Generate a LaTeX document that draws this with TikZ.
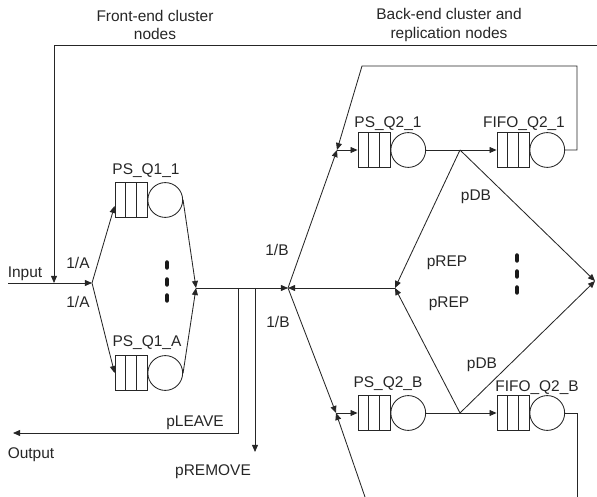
\documentclass[tikz,border=0pt]{standalone}
\usepackage{fontspec}
\setmainfont{Liberation Sans}
\usetikzlibrary{positioning,arrows.meta}

\begin{document}
\begin{tikzpicture}[
    x=0.025cm, y=-0.025cm,
    >={Triangle[length=5pt,width=4.2pt]},
    every node/.style={font=\fontsize{11}{13}\selectfont, text=black!85},
    wire/.style={draw=black!85, line width=0.6pt},
    buf/.style={rectangle, draw=black!85, line width=0.6pt, minimum width=0.8cm, minimum height=0.87cm, inner sep=0pt,
        path picture={
            \draw[black!85, line width=0.6pt] ([xshift=-0.133cm]path picture bounding box.north) -- ([xshift=-0.133cm]path picture bounding box.south);
            \draw[black!85, line width=0.6pt] ([xshift=0.133cm]path picture bounding box.north) -- ([xshift=0.133cm]path picture bounding box.south);
        }},
    srv/.style={circle, draw=black!85, line width=0.6pt, minimum size=0.87cm, inner sep=0pt},
    dotbar/.style={draw=black!90, line width=3.2pt, line cap=round}
]
    \useasboundingbox (0,0) rectangle (597,497);

    % 标题
    \node[align=center] (ttlF) at (155,25) {Front-end cluster\\nodes};
    \node[align=center] (ttlB) at (449,25) {Back-end cluster and\\replication nodes};

    % 前端队列
    \node[buf] (q11) at (131,200) {};
    \node[srv, right=0pt of q11] (s11) {};
    \node (l11) at (146,171) {PS\_Q1\_1};

    \node[buf] (q1A) at (131,373) {};
    \node[srv, right=0pt of q1A] (s1A) {};
    \node (l1A) at (147,343) {PS\_Q1\_A};

    % 后端队列
    \node[buf] (q21) at (374,150) {};
    \node[srv, right=0pt of q21] (s21) {};
    \node (l21) at (388,124) {PS\_Q2\_1};

    \node[buf] (f21) at (513,150) {};
    \node[srv, right=0pt of f21] (t21) {};
    \node (m21) at (524,124) {FIFO\_Q2\_1};

    \node[buf] (q2B) at (374,413) {};
    \node[srv, right=0pt of q2B] (s2B) {};
    \node (l2B) at (388,384) {PS\_Q2\_B};

    \node[buf] (f2B) at (513,413) {};
    \node[srv, right=0pt of f2B] (t2B) {};
    \node (m2B) at (537,388) {FIFO\_Q2\_B};

    % 连接点
    \coordinate (in) at (8,283);
    \coordinate (sp1) at (92,283);
    \coordinate (fbR) at (597,45);
    \coordinate (fbL) at (54,45);
    \coordinate (fbIn) at (54,283);
    \coordinate (jn1) at (196,288);
    \coordinate (lv) at (238,288);
    \coordinate (out) at (13,433);
    \coordinate (rm) at (255,288);
    \coordinate (rmEnd) at (255,452);
    \coordinate (sp2) at (288,288);
    \coordinate (j21) at (337,150);
    \coordinate (j2B) at (336,413);
    \coordinate (lpA) at (362,66);
    \coordinate (lpB) at (577,66);
    \coordinate (btA) at (577,497);
    \coordinate (btB) at (365,497);
    \coordinate (d21) at (460,150);
    \coordinate (d2B) at (460,413);
    \coordinate (rep) at (395,288);
    \coordinate (db) at (595,281);

    % 连线
    \draw[wire,->] (in) -- (sp1);
    \draw[wire,->] (fbR) -- (fbL) -- (fbIn);
    \draw[wire,->] (sp1) -- (q11.200);
    \draw[wire,->] (sp1) -- (q1A.west);
    \draw[wire,->] (s11.east) -- (jn1);
    \draw[wire,->] (s1A.east) -- (jn1);
    \draw[wire,->] (jn1) -- (sp2);
    \draw[wire,->] (lv) |- (out);
    \draw[wire,->] (rm) -- (rmEnd);
    \draw[wire,->] (rep) -- (sp2);
    \draw[wire,->] (sp2) -- (j21);
    \draw[wire,->] (sp2) -- (j2B);
    \draw[wire,->] (j21) -- (q21);
    \draw[wire,->] (j2B) -- (q2B);
    \draw[wire,->] (s21) -- (f21);
    \draw[wire,->] (s2B) -- (f2B);
    \draw[wire,->] (t21.east) -| (lpB) -- (lpA) -- (j21);
    \draw[wire] (t2B.east) -| (btA);
    \draw[wire,->] (btB) -- (j2B);
    \draw[wire,->] (d21) -- (rep);
    \draw[wire,->] (d21) -- (db);
    \draw[wire,->] (d2B) -- (rep);
    \draw[wire,->] (d2B) -- (db);

    % 省略号
    \foreach \y in {265,282,298} \draw[dotbar] (167,\y-2.5) -- (167,\y+2.5);
    \foreach \y in {258,274,290} \draw[dotbar] (517,\y-2.5) -- (517,\y+2.5);

    % 标注
    \node (tIn) at (25,274) {Input};
    \node (tA1) at (78,263) {1/A};
    \node (tA2) at (78,302) {1/A};
    \node (tB1) at (277,250) {1/B};
    \node (tB2) at (278,322) {1/B};
    \node (tDB1) at (476,197) {pDB};
    \node (tDB2) at (482,365) {pDB};
    \node (tRP1) at (447,263) {pREP};
    \node (tRP2) at (449,304) {pREP};
    \node (tLv) at (195,423) {pLEAVE};
    \node (tOut) at (31,455) {Output};
    \node (tRm) at (213,472) {pREMOVE};
\end{tikzpicture}
\end{document}
